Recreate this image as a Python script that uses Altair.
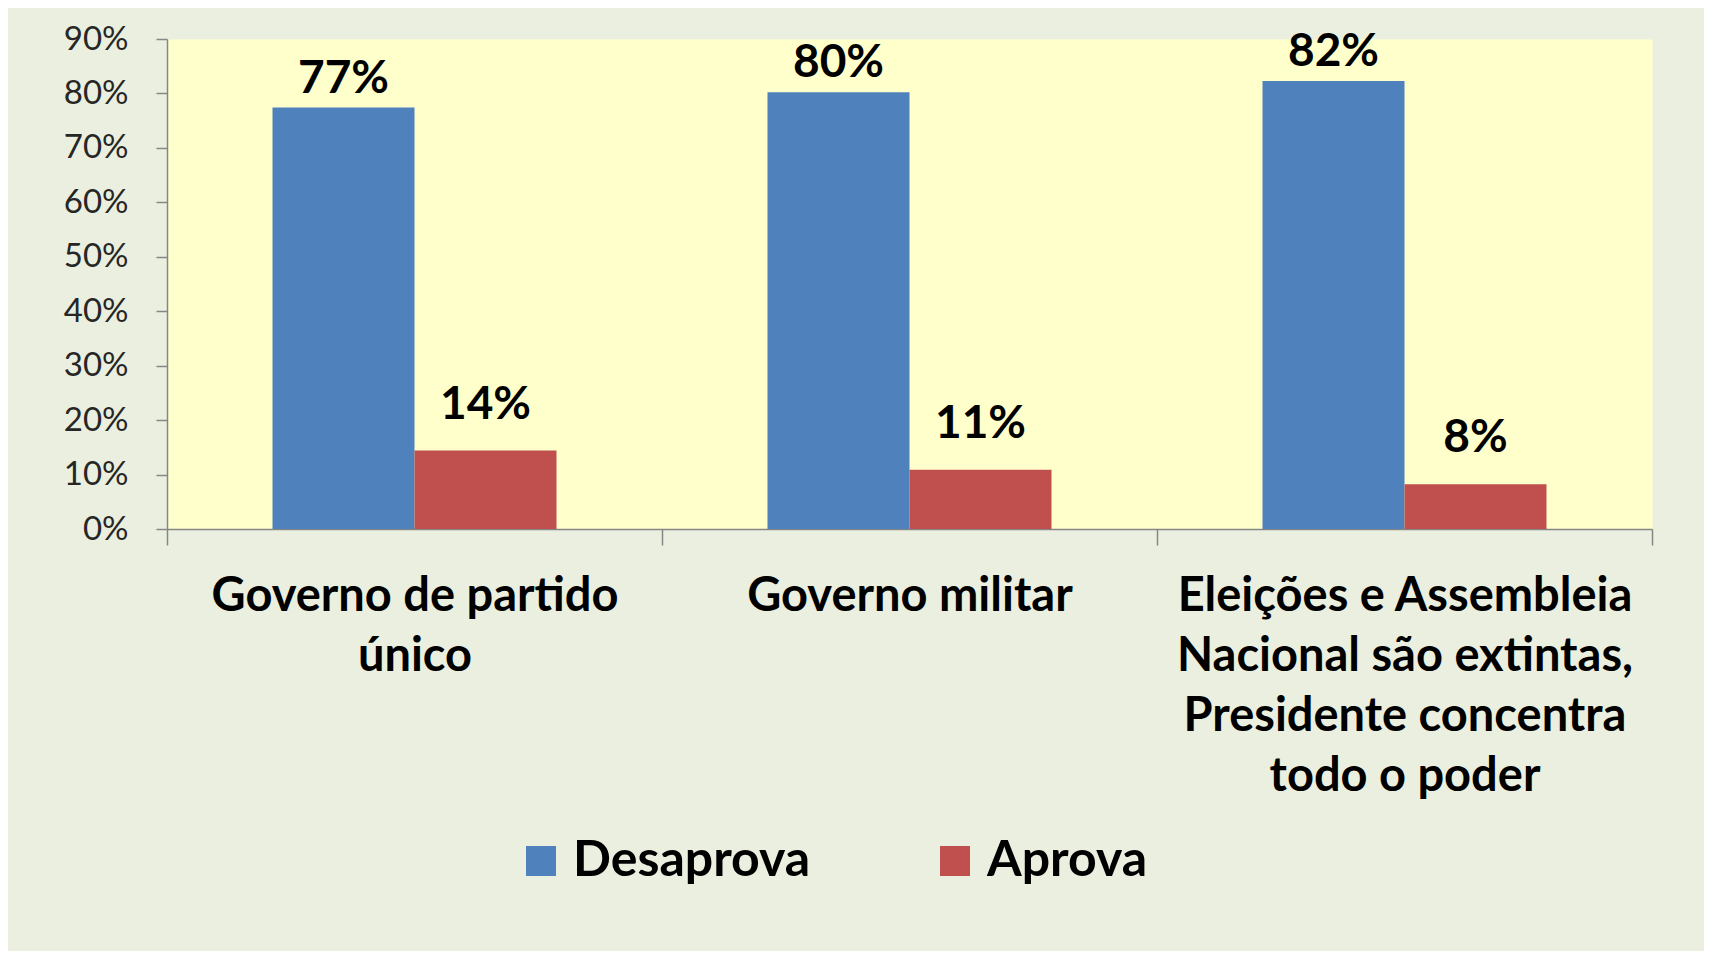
import altair as alt
import pandas as pd

categories = [
    "Governo de partido\núnico",
    "Governo militar",
    "Eleições e Assembleia\nNacional são extintas,\nPresidente concentra\ntodo o poder",
]
series = ["Desaprova", "Aprova"]
desaprova = [0.774, 0.802, 0.823]
aprova = [0.144, 0.109, 0.082]
y_ticks = [0.0, 0.1, 0.2, 0.3, 0.4, 0.5, 0.6, 0.7, 0.8, 0.9]
colors = ["#4F81BD", "#C0504D"]

rows = []
for c, d, a in zip(categories, desaprova, aprova):
    rows.append({"cat": c, "serie": "Desaprova", "valor": d})
    rows.append({"cat": c, "serie": "Aprova", "valor": a})
df = pd.DataFrame(rows)

FONT = "Lato"
GRAY = "#868686"

x = alt.X(
    "cat:N",
    sort=categories,
    scale=alt.Scale(paddingInner=0, paddingOuter=0),
    axis=alt.Axis(
        title=None,
        labelAngle=0,
        labelExpr="split(datum.label, '\\n')",
        labelFont=FONT,
        labelFontWeight="bold",
        labelFontSize=47,
        labelLineHeight=60,
        labelColor="#000000",
        labelPadding=28,
        labelLimit=0,
        tickBand="extent",
        tickSize=16,
        tickColor=GRAY,
        tickWidth=1.5,
        domainColor=GRAY,
        domainWidth=1.5,
    ),
)
xo = alt.XOffset("serie:N", sort=series, scale=alt.Scale(paddingOuter=0.743, paddingInner=0))
y = alt.Y(
    "valor:Q",
    scale=alt.Scale(domain=[0, 0.9], nice=False),
    axis=alt.Axis(
        values=y_ticks,
        format=".0%",
        title=None,
        grid=False,
        labelFont=FONT,
        labelFontSize=33,
        labelColor="#262626",
        labelPadding=28,
        tickSize=11,
        tickColor=GRAY,
        tickWidth=1.5,
        domainColor=GRAY,
        domainWidth=1.5,
    ),
)
color = alt.Color(
    "serie:N",
    sort=series,
    scale=alt.Scale(domain=series, range=colors),
    legend=alt.Legend(
        title=None,
        orient="none",
        legendX=349,
        legendY=797,
        direction="horizontal",
        symbolType="square",
        symbolSize=900,
        symbolStrokeWidth=0,
        labelFont=FONT,
        labelFontWeight="bold",
        labelFontSize=50,
        labelColor="#000000",
        labelOffset=7,
        labelLimit=0,
        columnPadding=119,
    ),
)

base = alt.Chart(df)
bars = base.mark_bar().encode(x=x, xOffset=xo, y=y, color=color)

text_style = dict(font=FONT, fontWeight="bold", fontSize=46, color="#000000", baseline="alphabetic", align="center")
text_d = base.transform_filter(alt.datum.serie == "Desaprova").mark_text(dy=-15, **text_style).encode(
    x=x, xOffset=xo, y=y, text=alt.Text("valor:Q", format=".0%")
)
text_a = base.transform_filter(alt.datum.serie == "Aprova").mark_text(dy=-32, **text_style).encode(
    x=x, xOffset=xo, y=y, text=alt.Text("valor:Q", format=".0%")
)

chart = (
    alt.layer(bars, text_d, text_a)
    .properties(
        width=1485,
        height=490,
        padding={"left": 159, "top": 31, "right": 52, "bottom": 422},
        autosize=alt.AutoSizeParams(type="none"),
        background="#EBEFDF",
    )
    .configure_view(fill="#FFFFCC", stroke="transparent")
)

chart.save("out.html", embed_options={"renderer": "svg", "actions": False})
